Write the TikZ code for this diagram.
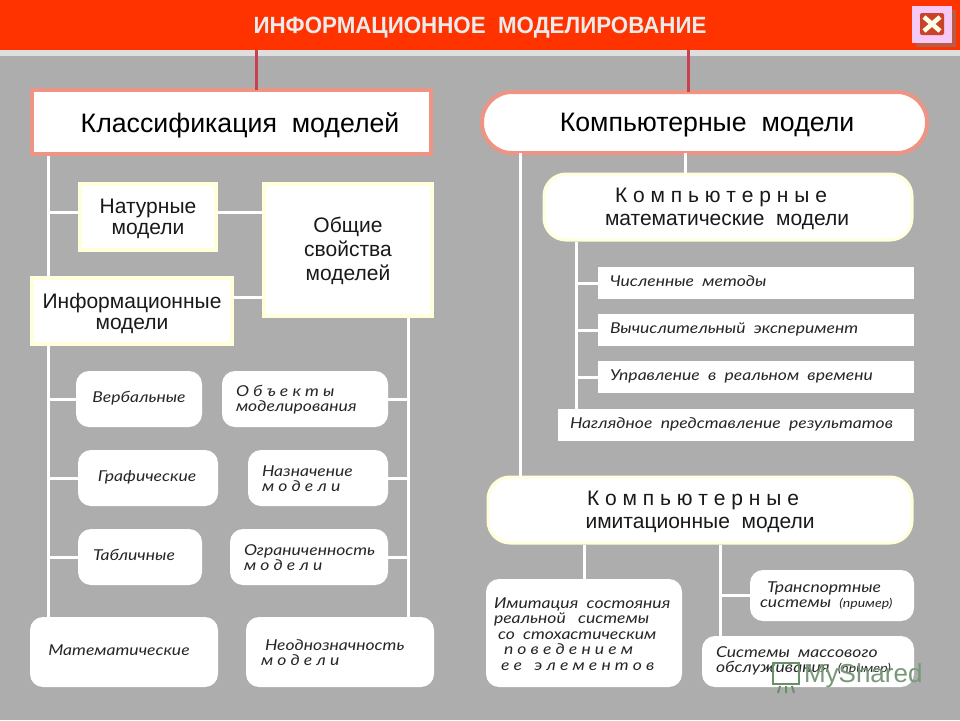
\documentclass[tikz,border=0pt]{standalone}
\usepackage{fontspec}
\usepackage{graphicx}
\setmainfont{Liberation Sans}
\newfontfamily\gothic[FakeStretch=1.17]{Lato}
\definecolor{bgg}{HTML}{ADADAD}
\definecolor{hdr}{HTML}{FF3300}
\definecolor{salm}{HTML}{EE9484}
\definecolor{ylw}{HTML}{FFFFDC}
\definecolor{redl}{HTML}{C9404F}
\definecolor{btnp}{HTML}{F5C8F5}
\definecolor{btnd}{HTML}{C8432A}
\newcommand{\fs}[1]{\fontsize{#1}{#1}\selectfont}
\newcommand{\bx}[6]{% name, x1,y1,x2,y2, style
  \node[#6,minimum width={(#4-#2)*1pt},minimum height={(#5-#3)*1pt}] (#1) at ({(#2+#4)/2},{(#3+#5)/2}) {};}
\tikzset{
  x=1pt,y=-1pt,
  every node/.style={inner sep=0pt,outer sep=0pt,text=black},
  wline/.style={draw=white,line width=3pt},
  rline/.style={draw=redl,line width=3pt},
  sqbox/.style={rectangle,fill=white,draw=ylw,line width=4pt},
  rbox/.style={rectangle,rounded corners=13pt,fill=white},
  ybox/.style={rectangle,rounded corners=22pt,fill=white,draw=ylw,line width=3pt},
  plain/.style={rectangle,fill=white},
  big/.style={font=\fs{26.7},align=center},
  mid/.style={font=\fs{21},align=center,text=black!90},
  ital/.style={font=\fs{15}\gothic\itshape,align=left,text=black!85},
  ilbl/.style={font=\fs{15}\gothic\itshape,align=left,text=black!85,text height=11pt,text depth=3pt},
}
\begin{document}
\begin{tikzpicture}
\useasboundingbox (0,0) rectangle (960,720);
\fill[bgg] (0,0) rectangle (960,720);
\fill[black!13] (0,50) rectangle (960,56);
\node[rectangle,fill=hdr,minimum width=960pt,minimum height=50pt] (head) at (480,25) {};
\node[font=\fs{23.5}\bfseries,text=white!92!black] (title) at (480,28) {\scalebox{0.95}[1]{ИНФОРМАЦИОННОЕ\ \ МОДЕЛИРОВАНИЕ}};
% close button
\fill[black!25!hdr!60!bgg] (916,10) rectangle (956,47);
\bx{btn}{912}{6}{952}{43}{rectangle,fill=btnp}
\bx{btnin}{920}{13}{944}{35}{rectangle,rounded corners=2pt,fill=btnd}
\draw[white!90!yellow,line width=4.5pt] (btnin.center) ++(-8,-7) -- ++(16,14);
\draw[white!90!yellow,line width=4.5pt] (btnin.center) ++(8,-7) -- ++(-16,14);
% main boxes
\bx{cls}{32}{90}{431}{154}{rectangle,fill=white,draw=salm,line width=4pt}
\bx{comp}{482}{92}{927}{153}{rectangle,rounded corners=30pt,fill=white,draw=salm,line width=4pt}
\draw[rline] (cls.north -| 256,0) -- (head.south -| 256,0);
\draw[rline] (comp.north -| 688,0) -- (head.south -| 688,0);
% left boxes
\bx{nat}{80}{184}{216}{250}{sqbox}
\bx{obs}{264}{184}{432}{316}{sqbox}
\bx{inf}{32}{278}{232}{344}{sqbox}
\bx{ver}{76}{371}{202}{427}{rbox}
\bx{obj}{222}{371}{388}{427}{rbox}
\bx{gra}{78}{450}{218}{506}{rbox}
\bx{naz}{248}{450}{388}{506}{rbox}
\bx{tab}{78}{529}{202}{585}{rbox}
\bx{ogr}{230}{529}{388}{585}{rbox}
\bx{mat}{30}{617}{218}{687}{rbox}
\bx{neo}{246}{617}{434}{687}{rbox}
% right boxes
\bx{kmm}{544}{174}{912}{240}{ybox}
\bx{chi}{598}{267}{914}{299}{plain}
\bx{vyc}{598}{314}{914}{346}{plain}
\bx{upr}{598}{361}{914}{393}{plain}
\bx{nag}{558}{409}{914}{441}{plain}
\bx{kim}{488}{477}{912}{543}{ybox}
\bx{imi}{486}{579}{682}{687}{rbox}
\bx{tra}{750}{570}{914}{621}{rbox}
\bx{sis}{702}{636}{914}{687}{rbox}
% trunk coordinates
\coordinate (tl) at (48,156);
\coordinate (tr) at (408,318);
\coordinate (tc) at (520,155);
\coordinate (tm) at (576,242);
\coordinate (ta) at (584,545);
\coordinate (tb) at (720,545);
\coordinate (jn) at (48,212);
\coordinate (ja) at (262,297);
% connectors
\draw[wline] (tl) -- (tl |- inf.north);
\draw[wline] (tl |- inf.south) -- (tl |- mat.north);
\draw[wline] (jn) -- (nat.west |- jn);
\draw[wline] (nat.east |- jn) -- (obs.west |- jn);
\draw[wline] (inf.east |- ja) -- (obs.west |- ja);
\draw[wline] (tr) -- (tr |- neo.north);
\draw[wline] (tl |- ver.west) -- (ver.west);
\draw[wline] (tl |- gra.west) -- (gra.west);
\draw[wline] (tl |- tab.west) -- (tab.west);
\draw[wline] (obj.east) -- (tr |- obj.east);
\draw[wline] (naz.east) -- (tr |- naz.east);
\draw[wline] (ogr.east) -- (tr |- ogr.east);
\draw[wline] (comp.south -| tc) -- (kim.north -| tc);
\draw[wline] (comp.south -| 685,0) -- (kmm.north -| 685,0);
\draw[wline] (tm) -- (tm |- nag.north);
\draw[wline] (tm |- chi.west) -- (chi.west);
\draw[wline] (tm |- vyc.west) -- (vyc.west);
\draw[wline] (tm |- upr.west) -- (upr.west);
\draw[wline] (ta) -- (ta |- imi.north);
\draw[wline] (tb) -- (tb |- sis.north);
\draw[wline] (tb |- tra.west) -- (tra.west);
% labels
\node[big] (l1) at (240,125) {Классификация\ \ моделей};
\node[big] (l2) at (707,125) {Компьютерные\ \ модели};
\node[mid] (l3) at (148,219) {Натурные\\[0pt]модели};
\node[mid] (l4) at (348,251) {Общие\\[3pt]свойства\\[3pt]моделей};
\node[mid] (l5) at (132,313) {Информационные\\[0pt]модели};
\node[ilbl] (l6) at (139,398) {Вербальные};
\node[ital,anchor=west] (l7) at (236,400) {О б ъ е к т ы\\[0pt]моделирования};
\node[ilbl] (l8) at (147,477) {Графические};
\node[ital,anchor=west] (l9) at (262,479) {Назначение\\[0pt]м о д е л и};
\node[ilbl] (l10) at (134,556) {Табличные};
\node[ital,anchor=west] (l11) at (244,558) {Ограниченность\\[0pt]м о д е л и};
\node[ilbl] (l12) at (119,651) {Математические};
\node[ital,anchor=west] (l13) at (261,653) {\hspace*{4pt}Неоднозначность\\[0pt]м о д е л и};
\node[mid] (l14) at (727,209) {К о м п ь ю т е р н ы е\hspace*{12pt}\\[2pt]математические\ \ модели};
\node[ilbl,anchor=west] (l15) at (610,282) {Численные\ \ методы};
\node[ilbl,anchor=west] (l16) at (610,329) {Вычислительный\ \ эксперимент};
\node[ilbl,anchor=west] (l17) at (610,376) {Управление\ \ в\ \ реальном\ \ времени};
\node[ilbl,anchor=west] (l18) at (570,424) {Наглядное\ \ представление\ \ результатов};
\node[mid] (l19) at (700,512) {К о м п ь ю т е р н ы е\hspace*{14pt}\\[2pt]имитационные\ \ модели};
\node[ital,anchor=west] (l20) at (494,634) {Имитация\ \ состояния\\[0.6pt]реальной\ \ \ системы\\[0.6pt]\hspace*{4pt}со\ \ стохастическим\\[0.6pt]\hspace*{10pt}п о в е д е н и е м\\[0.6pt]\hspace*{7pt}е е\ \ \ э л е м е н т о в};
\node[ital,anchor=west] (l21) at (760,596) {\hspace*{7pt}Транспортные\\[0pt]системы\ \ {\fs{12}(пример)}};
\node[ital,anchor=west] (l22) at (716,661) {Системы\ \ массового\\[0pt]обслуживания\ \ {\fs{12}(пример)}};
% watermark
\draw[black!60!green!40!bgg,line width=2pt] (773,663) rectangle (799,684);
\draw[black!60!green!40!bgg,line width=2pt] (780,686) -- (778,693) (786,686) -- (786,693) (792,686) -- (794,693);
\node[font=\fs{26},text=black!60!green!30!bgg,anchor=west] (wm) at (804,676) {MyShared};
\end{tikzpicture}
\end{document}
